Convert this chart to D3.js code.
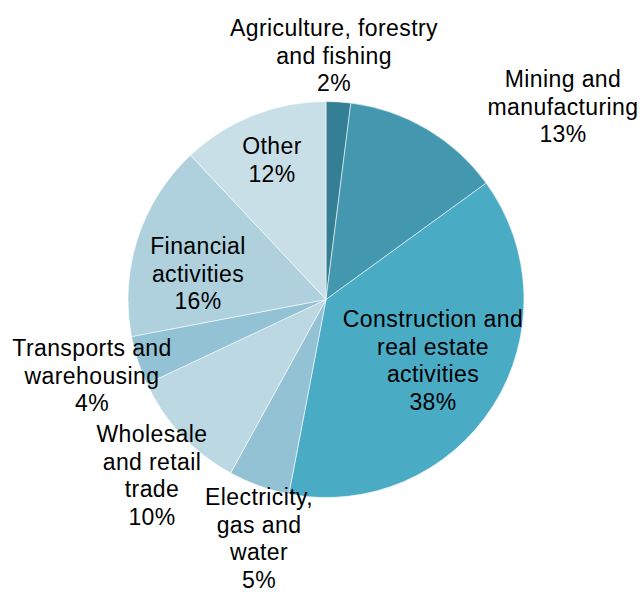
<!DOCTYPE html>
<html>
<head>
<meta charset="utf-8">
<script src="https://cdn.jsdelivr.net/npm/d3@7"></script>
<style>
  html, body { margin: 0; padding: 0; background: #fff; }
  svg { display: block; }
  text { font-family: "Liberation Sans", Arial, sans-serif; fill: #000; }
</style>
</head>
<body>
<svg id="chart" width="643" height="592"></svg>
<script>
// Sectors, listed clockwise from 12 o'clock
const sectors = [
  "Agriculture, forestry and fishing",
  "Mining and manufacturing",
  "Construction and real estate activities",
  "Electricity, gas and water",
  "Wholesale and retail trade",
  "Transports and warehousing",
  "Financial activities",
  "Other"
];
// Share of each sector, percent
const shares = [2, 13, 38, 5, 10, 4, 16, 12];
// Label text broken into lines as drawn
const labelLines = [
  ["Agriculture, forestry", "and fishing"],
  ["Mining and", "manufacturing"],
  ["Construction and", "real estate", "activities"],
  ["Electricity,", "gas and", "water"],
  ["Wholesale", "and retail", "trade"],
  ["Transports and", "warehousing"],
  ["Financial", "activities"],
  ["Other"]
];

// Styling and layout
const colors = ["#357f94", "#4398af", "#4aabc5", "#92c2d3", "#bcd8e3", "#92c2d3", "#aed1dd", "#c8dfe7"];
// Label anchors: centre x and first baseline y
const labelPos = [
  [334, 36], [563, 87], [433, 327], [259, 505],
  [152, 442], [92, 356], [198, 254], [272, 154]
];
const cx = 326, cy = 299.5, radius = 198;
const lineH = 27.6;

const svg = d3.select("#chart");
const data = sectors.map((s, i) => ({ name: s, value: shares[i], lines: labelLines[i] }));

const pie = d3.pie().sort(null).value(d => d.value);
const arc = d3.arc().innerRadius(0).outerRadius(radius);

const g = svg.append("g").attr("transform", `translate(${cx},${cy})`);
g.selectAll("path")
  .data(pie(data))
  .join("path")
  .attr("d", arc)
  .attr("fill", (d, i) => colors[i])
  .attr("stroke", "rgba(255,255,255,0.7)")
  .attr("stroke-width", 0.8);

const labels = svg.append("g")
  .selectAll("text")
  .data(data)
  .join("text")
  .attr("text-anchor", "middle")
  .attr("font-size", 23)
  .attr("letter-spacing", 0.4)
  .attr("transform", (d, i) => `translate(${labelPos[i][0]},${labelPos[i][1]})`);

labels.each(function(d) {
  const t = d3.select(this);
  const all = d.lines.concat([d3.format("d")(d.value) + "%"]);
  all.forEach((ln, j) => {
    t.append("tspan").attr("x", 0).attr("y", j * lineH).text(ln);
  });
});
</script>
</body>
</html>
